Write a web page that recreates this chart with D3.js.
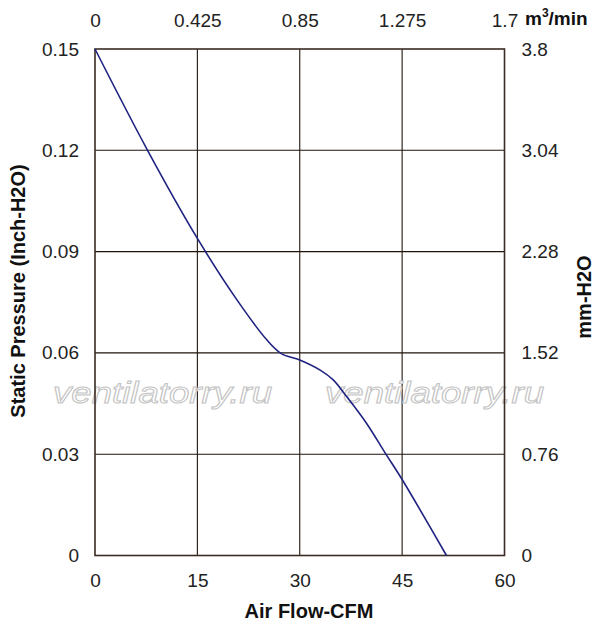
<!DOCTYPE html>
<html>
<head>
<meta charset="utf-8">
<script src="https://cdn.jsdelivr.net/npm/d3@7"></script>
<style>
  body { margin: 0; background: #fff; }
  text { font-family: "Liberation Sans", Arial, sans-serif; fill: #222; }
</style>
</head>
<body>
<div data-js-graph></div>
<script>
// curve points: [CFM, inch-H2O]
const airFlowCfm = [0, 7.7, 15, 20.8, 25.2, 27.3, 30, 33, 34.9, 36.9, 39.8, 42.6, 45, 51.5];
const pressureInch = [0.15, 0.12, 0.0939, 0.0757, 0.0638, 0.0598, 0.0579, 0.0549, 0.052, 0.047, 0.0391, 0.0301, 0.0225, 0];

const bottomTicks = [0, 15, 30, 45, 60];
const topTicks = ['0', '0.425', '0.85', '1.275', '1.7'];
const leftTicks = [0, 0.03, 0.06, 0.09, 0.12, 0.15];
const rightTicks = ['0', '0.76', '1.52', '2.28', '3.04', '3.8'];
const watermarks = ['ventilatorry.ru', 'ventilatorry.ru'];

const SETTING = {
  width: 597,
  height: 626,
  left: 95,
  right: 504.5,
  top: 49,
  bottom: 555.5,
  font: 19,
};

const svg = d3.select('[data-js-graph]').append('svg')
  .attr('width', SETTING.width)
  .attr('height', SETTING.height);

const x = d3.scaleLinear().domain([0, 60]).range([SETTING.left, SETTING.right]);
const y = d3.scaleLinear().domain([0, 0.15]).range([SETTING.bottom, SETTING.top]);
// secondary scales share the same pixel range
const xTop = d3.scalePoint().domain(topTicks).range([SETTING.left, SETTING.right]);
const yRight = d3.scalePoint().domain(rightTicks).range([SETTING.bottom, SETTING.top]);

// grid
const grid = svg.append('g').attr('stroke', '#1e140c').attr('stroke-width', 1.1);
grid.selectAll('line.v')
  .data(bottomTicks.slice(1, -1))
  .enter().append('line')
  .attr('x1', (d) => x(d)).attr('x2', (d) => x(d))
  .attr('y1', SETTING.top).attr('y2', SETTING.bottom);
grid.selectAll('line.h')
  .data(leftTicks.slice(1, -1))
  .enter().append('line')
  .attr('x1', SETTING.left).attr('x2', SETTING.right)
  .attr('y1', (d) => y(d)).attr('y2', (d) => y(d));

// watermark
svg.append('g')
  .selectAll('text')
  .data(watermarks)
  .enter().append('text')
  .attr('x', (d, i) => 53 + i * 272)
  .attr('y', 403)
  .attr('textLength', 219)
  .attr('lengthAdjust', 'spacingAndGlyphs')
  .style('font-size', '29px')
  .style('font-style', 'italic')
  .style('fill', '#fff')
  .style('stroke', '#c4c4c4')
  .style('stroke-width', 1)
  .text((d) => d);

// frame
svg.append('rect')
  .attr('x', SETTING.left).attr('y', SETTING.top)
  .attr('width', SETTING.right - SETTING.left)
  .attr('height', SETTING.bottom - SETTING.top)
  .attr('fill', 'none')
  .attr('stroke', '#3a2c24')
  .attr('stroke-width', 1.6);

// curve
const line = d3.line()
  .x((d) => x(d[0]))
  .y((d) => y(d[1]))
  .curve(d3.curveCatmullRom.alpha(0.5));

svg.append('path')
  .datum(d3.zip(airFlowCfm, pressureInch))
  .attr('d', line)
  .attr('fill', 'none')
  .attr('stroke', '#1f2380')
  .attr('stroke-width', 1.6);

// axes (labels only, no tick marks)
const axisStyle = (g) => {
  g.select('.domain').remove();
  g.selectAll('.tick line').remove();
  g.selectAll('text')
    .style('font-family', '"Liberation Sans", Arial, sans-serif')
    .style('font-size', `${SETTING.font}px`)
    .attr('fill', '#222');
};

svg.append('g')
  .attr('transform', `translate(0,${SETTING.bottom + 15})`)
  .call(d3.axisBottom(x).tickValues(bottomTicks).tickSize(0).tickFormat(d3.format('d')))
  .call(axisStyle);

svg.append('g')
  .attr('transform', `translate(0,${SETTING.top - 19})`)
  .call(d3.axisTop(xTop).tickSize(0))
  .call(axisStyle);

svg.append('g')
  .attr('transform', `translate(${SETTING.left - 13},0)`)
  .call(d3.axisLeft(y).tickValues(leftTicks).tickSize(0).tickFormat((d) => (d === 0 ? '0' : d3.format('.2f')(d))))
  .call(axisStyle);

svg.append('g')
  .attr('transform', `translate(${SETTING.right + 14},0)`)
  .call(d3.axisRight(yRight).tickSize(0))
  .call(axisStyle);

// axis titles
const title = (txt, tx, ty, rot) => svg.append('text')
  .attr('transform', `translate(${tx},${ty}) rotate(${rot})`)
  .attr('text-anchor', 'middle')
  .style('font-size', '20px')
  .style('font-weight', 'bold')
  .style('fill', '#111')
  .text(txt);

title('Air Flow-CFM', 309, 618, 0);
title('Static Pressure (Inch-H2O)', 25, 291, -90);
title('mm-H2O', 591, 297, -90);

const unit = svg.append('text')
  .attr('x', 525)
  .attr('y', 25)
  .style('font-size', '19px')
  .style('font-weight', 'bold')
  .style('fill', '#111');
unit.append('tspan').text('m');
unit.append('tspan').attr('dy', -8).style('font-size', '12px').text('3');
unit.append('tspan').attr('dy', 8).text('/min');
</script>
</body>
</html>
